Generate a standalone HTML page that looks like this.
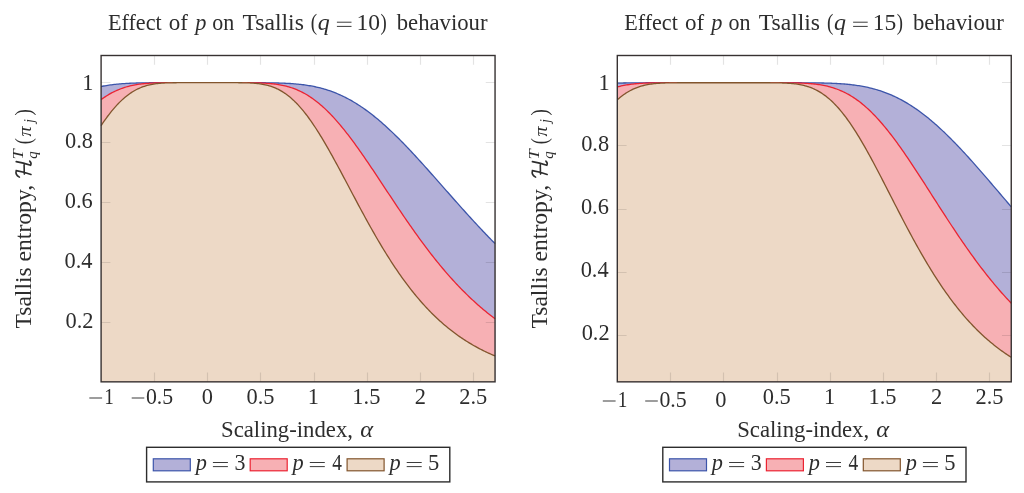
<!DOCTYPE html>
<html><head><meta charset="utf-8"><style>
html,body{margin:0;padding:0;background:#fff;width:1024px;height:493px;overflow:hidden}
svg{display:block;will-change:transform}
.t{font-family:"Liberation Serif",serif;fill:rgb(45,45,45)}
</style></head><body>
<svg width="1024" height="493" viewBox="0 0 1024 493">
<path d="M101.10,86.52 L102.41,86.26 L103.73,86.01 L105.04,85.78 L106.35,85.56 L107.67,85.34 L108.98,85.14 L110.29,84.96 L111.61,84.78 L112.92,84.61 L114.23,84.46 L115.54,84.31 L116.86,84.17 L118.17,84.05 L119.48,83.93 L120.80,83.81 L122.11,83.71 L123.42,83.62 L124.74,83.53 L126.05,83.45 L127.36,83.37 L128.68,83.30 L129.99,83.24 L131.30,83.18 L132.62,83.13 L133.93,83.08 L135.24,83.03 L136.56,82.99 L137.87,82.96 L139.18,82.93 L140.50,82.90 L141.81,82.87 L143.12,82.85 L144.43,82.83 L145.75,82.81 L147.06,82.79 L148.37,82.78 L149.69,82.77 L151.00,82.76 L152.31,82.75 L153.63,82.74 L154.94,82.73 L156.25,82.73 L157.57,82.72 L158.88,82.72 L160.19,82.71 L161.51,82.71 L162.82,82.71 L164.13,82.71 L165.45,82.71 L166.76,82.70 L168.07,82.70 L169.38,82.70 L170.70,82.70 L172.01,82.70 L173.32,82.70 L174.64,82.70 L175.95,82.70 L177.26,82.70 L178.58,82.70 L179.89,82.70 L181.20,82.70 L182.52,82.70 L183.83,82.70 L185.14,82.70 L186.46,82.70 L187.77,82.70 L189.08,82.70 L190.40,82.70 L191.71,82.70 L193.02,82.70 L194.33,82.70 L195.65,82.70 L196.96,82.70 L198.27,82.70 L199.59,82.70 L200.90,82.70 L202.21,82.70 L203.53,82.70 L204.84,82.70 L206.15,82.70 L207.47,82.70 L208.78,82.70 L210.09,82.70 L211.41,82.70 L212.72,82.70 L214.03,82.70 L215.35,82.70 L216.66,82.70 L217.97,82.70 L219.29,82.70 L220.60,82.70 L221.91,82.70 L223.22,82.70 L224.54,82.70 L225.85,82.70 L227.16,82.70 L228.48,82.70 L229.79,82.70 L231.10,82.70 L232.42,82.70 L233.73,82.70 L235.04,82.70 L236.36,82.70 L237.67,82.70 L238.98,82.70 L240.30,82.70 L241.61,82.70 L242.92,82.70 L244.24,82.70 L245.55,82.70 L246.86,82.70 L248.17,82.70 L249.49,82.71 L250.80,82.71 L252.11,82.71 L253.43,82.71 L254.74,82.71 L256.05,82.72 L257.37,82.72 L258.68,82.73 L259.99,82.73 L261.31,82.74 L262.62,82.75 L263.93,82.76 L265.25,82.77 L266.56,82.78 L267.87,82.79 L269.19,82.81 L270.50,82.82 L271.81,82.85 L273.12,82.87 L274.44,82.89 L275.75,82.92 L277.06,82.95 L278.38,82.99 L279.69,83.03 L281.00,83.07 L282.32,83.12 L283.63,83.17 L284.94,83.23 L286.26,83.29 L287.57,83.36 L288.88,83.43 L290.20,83.51 L291.51,83.60 L292.82,83.70 L294.14,83.80 L295.45,83.91 L296.76,84.03 L298.08,84.15 L299.39,84.29 L300.70,84.43 L302.01,84.59 L303.33,84.75 L304.64,84.93 L305.95,85.11 L307.27,85.31 L308.58,85.52 L309.89,85.74 L311.21,85.97 L312.52,86.22 L313.83,86.48 L315.15,86.75 L316.46,87.04 L317.77,87.34 L319.09,87.66 L320.40,87.98 L321.71,88.33 L323.03,88.69 L324.34,89.07 L325.65,89.46 L326.96,89.87 L328.28,90.29 L329.59,90.73 L330.90,91.19 L332.22,91.66 L333.53,92.15 L334.84,92.66 L336.16,93.19 L337.47,93.74 L338.78,94.30 L340.10,94.88 L341.41,95.48 L342.72,96.10 L344.04,96.73 L345.35,97.39 L346.66,98.06 L347.98,98.75 L349.29,99.46 L350.60,100.19 L351.91,100.93 L353.23,101.70 L354.54,102.48 L355.85,103.28 L357.17,104.10 L358.48,104.94 L359.79,105.80 L361.11,106.67 L362.42,107.56 L363.73,108.48 L365.05,109.40 L366.36,110.35 L367.67,111.31 L368.99,112.29 L370.30,113.29 L371.61,114.31 L372.93,115.34 L374.24,116.38 L375.55,117.45 L376.87,118.53 L378.18,119.62 L379.49,120.73 L380.80,121.86 L382.12,123.00 L383.43,124.16 L384.74,125.33 L386.06,126.51 L387.37,127.71 L388.68,128.93 L390.00,130.15 L391.31,131.39 L392.62,132.64 L393.94,133.90 L395.25,135.18 L396.56,136.47 L397.88,137.77 L399.19,139.08 L400.50,140.40 L401.82,141.73 L403.13,143.07 L404.44,144.42 L405.75,145.78 L407.07,147.15 L408.38,148.53 L409.69,149.92 L411.01,151.31 L412.32,152.71 L413.63,154.12 L414.95,155.54 L416.26,156.96 L417.57,158.39 L418.89,159.83 L420.20,161.27 L421.51,162.72 L422.83,164.17 L424.14,165.63 L425.45,167.09 L426.77,168.55 L428.08,170.02 L429.39,171.50 L430.70,172.97 L432.02,174.45 L433.33,175.93 L434.64,177.41 L435.96,178.90 L437.27,180.39 L438.58,181.87 L439.90,183.36 L441.21,184.85 L442.52,186.34 L443.84,187.83 L445.15,189.32 L446.46,190.81 L447.78,192.30 L449.09,193.79 L450.40,195.28 L451.72,196.76 L453.03,198.25 L454.34,199.73 L455.65,201.21 L456.97,202.69 L458.28,204.16 L459.59,205.64 L460.91,207.11 L462.22,208.57 L463.53,210.03 L464.85,211.49 L466.16,212.95 L467.47,214.40 L468.79,215.85 L470.10,217.29 L471.41,218.73 L472.73,220.16 L474.04,221.59 L475.35,223.01 L476.67,224.43 L477.98,225.84 L479.29,227.25 L480.61,228.65 L481.92,230.05 L483.23,231.44 L484.54,232.82 L485.86,234.20 L487.17,235.57 L488.48,236.93 L489.80,238.29 L491.11,239.64 L492.42,240.98 L493.74,242.32 L495.05,243.65 L495.05,381.85 L101.10,381.85 Z" fill="rgb(179,176,216)"/>
<path d="M101.10,86.52 L102.41,86.26 L103.73,86.01 L105.04,85.78 L106.35,85.56 L107.67,85.34 L108.98,85.14 L110.29,84.96 L111.61,84.78 L112.92,84.61 L114.23,84.46 L115.54,84.31 L116.86,84.17 L118.17,84.05 L119.48,83.93 L120.80,83.81 L122.11,83.71 L123.42,83.62 L124.74,83.53 L126.05,83.45 L127.36,83.37 L128.68,83.30 L129.99,83.24 L131.30,83.18 L132.62,83.13 L133.93,83.08 L135.24,83.03 L136.56,82.99 L137.87,82.96 L139.18,82.93 L140.50,82.90 L141.81,82.87 L143.12,82.85 L144.43,82.83 L145.75,82.81 L147.06,82.79 L148.37,82.78 L149.69,82.77 L151.00,82.76 L152.31,82.75 L153.63,82.74 L154.94,82.73 L156.25,82.73 L157.57,82.72 L158.88,82.72 L160.19,82.71 L161.51,82.71 L162.82,82.71 L164.13,82.71 L165.45,82.71 L166.76,82.70 L168.07,82.70 L169.38,82.70 L170.70,82.70 L172.01,82.70 L173.32,82.70 L174.64,82.70 L175.95,82.70 L177.26,82.70 L178.58,82.70 L179.89,82.70 L181.20,82.70 L182.52,82.70 L183.83,82.70 L185.14,82.70 L186.46,82.70 L187.77,82.70 L189.08,82.70 L190.40,82.70 L191.71,82.70 L193.02,82.70 L194.33,82.70 L195.65,82.70 L196.96,82.70 L198.27,82.70 L199.59,82.70 L200.90,82.70 L202.21,82.70 L203.53,82.70 L204.84,82.70 L206.15,82.70 L207.47,82.70 L208.78,82.70 L210.09,82.70 L211.41,82.70 L212.72,82.70 L214.03,82.70 L215.35,82.70 L216.66,82.70 L217.97,82.70 L219.29,82.70 L220.60,82.70 L221.91,82.70 L223.22,82.70 L224.54,82.70 L225.85,82.70 L227.16,82.70 L228.48,82.70 L229.79,82.70 L231.10,82.70 L232.42,82.70 L233.73,82.70 L235.04,82.70 L236.36,82.70 L237.67,82.70 L238.98,82.70 L240.30,82.70 L241.61,82.70 L242.92,82.70 L244.24,82.70 L245.55,82.70 L246.86,82.70 L248.17,82.70 L249.49,82.71 L250.80,82.71 L252.11,82.71 L253.43,82.71 L254.74,82.71 L256.05,82.72 L257.37,82.72 L258.68,82.73 L259.99,82.73 L261.31,82.74 L262.62,82.75 L263.93,82.76 L265.25,82.77 L266.56,82.78 L267.87,82.79 L269.19,82.81 L270.50,82.82 L271.81,82.85 L273.12,82.87 L274.44,82.89 L275.75,82.92 L277.06,82.95 L278.38,82.99 L279.69,83.03 L281.00,83.07 L282.32,83.12 L283.63,83.17 L284.94,83.23 L286.26,83.29 L287.57,83.36 L288.88,83.43 L290.20,83.51 L291.51,83.60 L292.82,83.70 L294.14,83.80 L295.45,83.91 L296.76,84.03 L298.08,84.15 L299.39,84.29 L300.70,84.43 L302.01,84.59 L303.33,84.75 L304.64,84.93 L305.95,85.11 L307.27,85.31 L308.58,85.52 L309.89,85.74 L311.21,85.97 L312.52,86.22 L313.83,86.48 L315.15,86.75 L316.46,87.04 L317.77,87.34 L319.09,87.66 L320.40,87.98 L321.71,88.33 L323.03,88.69 L324.34,89.07 L325.65,89.46 L326.96,89.87 L328.28,90.29 L329.59,90.73 L330.90,91.19 L332.22,91.66 L333.53,92.15 L334.84,92.66 L336.16,93.19 L337.47,93.74 L338.78,94.30 L340.10,94.88 L341.41,95.48 L342.72,96.10 L344.04,96.73 L345.35,97.39 L346.66,98.06 L347.98,98.75 L349.29,99.46 L350.60,100.19 L351.91,100.93 L353.23,101.70 L354.54,102.48 L355.85,103.28 L357.17,104.10 L358.48,104.94 L359.79,105.80 L361.11,106.67 L362.42,107.56 L363.73,108.48 L365.05,109.40 L366.36,110.35 L367.67,111.31 L368.99,112.29 L370.30,113.29 L371.61,114.31 L372.93,115.34 L374.24,116.38 L375.55,117.45 L376.87,118.53 L378.18,119.62 L379.49,120.73 L380.80,121.86 L382.12,123.00 L383.43,124.16 L384.74,125.33 L386.06,126.51 L387.37,127.71 L388.68,128.93 L390.00,130.15 L391.31,131.39 L392.62,132.64 L393.94,133.90 L395.25,135.18 L396.56,136.47 L397.88,137.77 L399.19,139.08 L400.50,140.40 L401.82,141.73 L403.13,143.07 L404.44,144.42 L405.75,145.78 L407.07,147.15 L408.38,148.53 L409.69,149.92 L411.01,151.31 L412.32,152.71 L413.63,154.12 L414.95,155.54 L416.26,156.96 L417.57,158.39 L418.89,159.83 L420.20,161.27 L421.51,162.72 L422.83,164.17 L424.14,165.63 L425.45,167.09 L426.77,168.55 L428.08,170.02 L429.39,171.50 L430.70,172.97 L432.02,174.45 L433.33,175.93 L434.64,177.41 L435.96,178.90 L437.27,180.39 L438.58,181.87 L439.90,183.36 L441.21,184.85 L442.52,186.34 L443.84,187.83 L445.15,189.32 L446.46,190.81 L447.78,192.30 L449.09,193.79 L450.40,195.28 L451.72,196.76 L453.03,198.25 L454.34,199.73 L455.65,201.21 L456.97,202.69 L458.28,204.16 L459.59,205.64 L460.91,207.11 L462.22,208.57 L463.53,210.03 L464.85,211.49 L466.16,212.95 L467.47,214.40 L468.79,215.85 L470.10,217.29 L471.41,218.73 L472.73,220.16 L474.04,221.59 L475.35,223.01 L476.67,224.43 L477.98,225.84 L479.29,227.25 L480.61,228.65 L481.92,230.05 L483.23,231.44 L484.54,232.82 L485.86,234.20 L487.17,235.57 L488.48,236.93 L489.80,238.29 L491.11,239.64 L492.42,240.98 L493.74,242.32 L495.05,243.65" fill="none" stroke="rgb(60,85,170)" stroke-width="1.3" stroke-linejoin="round"/>
<path d="M101.10,99.59 L102.41,98.65 L103.73,97.73 L105.04,96.85 L106.35,96.01 L107.67,95.19 L108.98,94.41 L110.29,93.66 L111.61,92.94 L112.92,92.25 L114.23,91.59 L115.54,90.97 L116.86,90.37 L118.17,89.81 L119.48,89.27 L120.80,88.76 L122.11,88.28 L123.42,87.83 L124.74,87.40 L126.05,87.00 L127.36,86.62 L128.68,86.27 L129.99,85.94 L131.30,85.63 L132.62,85.35 L133.93,85.09 L135.24,84.84 L136.56,84.62 L137.87,84.41 L139.18,84.22 L140.50,84.05 L141.81,83.89 L143.12,83.75 L144.43,83.62 L145.75,83.50 L147.06,83.40 L148.37,83.30 L149.69,83.22 L151.00,83.14 L152.31,83.08 L153.63,83.02 L154.94,82.97 L156.25,82.93 L157.57,82.89 L158.88,82.86 L160.19,82.83 L161.51,82.80 L162.82,82.78 L164.13,82.77 L165.45,82.75 L166.76,82.74 L168.07,82.73 L169.38,82.73 L170.70,82.72 L172.01,82.71 L173.32,82.71 L174.64,82.71 L175.95,82.71 L177.26,82.70 L178.58,82.70 L179.89,82.70 L181.20,82.70 L182.52,82.70 L183.83,82.70 L185.14,82.70 L186.46,82.70 L187.77,82.70 L189.08,82.70 L190.40,82.70 L191.71,82.70 L193.02,82.70 L194.33,82.70 L195.65,82.70 L196.96,82.70 L198.27,82.70 L199.59,82.70 L200.90,82.70 L202.21,82.70 L203.53,82.70 L204.84,82.70 L206.15,82.70 L207.47,82.70 L208.78,82.70 L210.09,82.70 L211.41,82.70 L212.72,82.70 L214.03,82.70 L215.35,82.70 L216.66,82.70 L217.97,82.70 L219.29,82.70 L220.60,82.70 L221.91,82.70 L223.22,82.70 L224.54,82.70 L225.85,82.70 L227.16,82.70 L228.48,82.70 L229.79,82.70 L231.10,82.70 L232.42,82.70 L233.73,82.70 L235.04,82.70 L236.36,82.70 L237.67,82.70 L238.98,82.71 L240.30,82.71 L241.61,82.71 L242.92,82.71 L244.24,82.72 L245.55,82.72 L246.86,82.73 L248.17,82.74 L249.49,82.75 L250.80,82.77 L252.11,82.78 L253.43,82.80 L254.74,82.82 L256.05,82.85 L257.37,82.88 L258.68,82.92 L259.99,82.96 L261.31,83.01 L262.62,83.07 L263.93,83.13 L265.25,83.21 L266.56,83.29 L267.87,83.38 L269.19,83.48 L270.50,83.60 L271.81,83.73 L273.12,83.87 L274.44,84.02 L275.75,84.19 L277.06,84.38 L278.38,84.58 L279.69,84.80 L281.00,85.05 L282.32,85.31 L283.63,85.59 L284.94,85.89 L286.26,86.21 L287.57,86.56 L288.88,86.93 L290.20,87.33 L291.51,87.75 L292.82,88.20 L294.14,88.68 L295.45,89.18 L296.76,89.72 L298.08,90.28 L299.39,90.87 L300.70,91.49 L302.01,92.14 L303.33,92.82 L304.64,93.54 L305.95,94.28 L307.27,95.06 L308.58,95.87 L309.89,96.71 L311.21,97.59 L312.52,98.50 L313.83,99.44 L315.15,100.41 L316.46,101.42 L317.77,102.46 L319.09,103.53 L320.40,104.64 L321.71,105.77 L323.03,106.94 L324.34,108.14 L325.65,109.38 L326.96,110.64 L328.28,111.94 L329.59,113.26 L330.90,114.62 L332.22,116.00 L333.53,117.42 L334.84,118.86 L336.16,120.33 L337.47,121.83 L338.78,123.35 L340.10,124.91 L341.41,126.48 L342.72,128.08 L344.04,129.71 L345.35,131.36 L346.66,133.03 L347.98,134.72 L349.29,136.43 L350.60,138.17 L351.91,139.92 L353.23,141.69 L354.54,143.48 L355.85,145.29 L357.17,147.11 L358.48,148.95 L359.79,150.81 L361.11,152.68 L362.42,154.56 L363.73,156.45 L365.05,158.35 L366.36,160.27 L367.67,162.20 L368.99,164.13 L370.30,166.07 L371.61,168.03 L372.93,169.98 L374.24,171.95 L375.55,173.92 L376.87,175.89 L378.18,177.87 L379.49,179.85 L380.80,181.83 L382.12,183.82 L383.43,185.81 L384.74,187.79 L386.06,189.78 L387.37,191.77 L388.68,193.75 L390.00,195.73 L391.31,197.71 L392.62,199.69 L393.94,201.66 L395.25,203.63 L396.56,205.60 L397.88,207.56 L399.19,209.51 L400.50,211.45 L401.82,213.39 L403.13,215.33 L404.44,217.25 L405.75,219.17 L407.07,221.08 L408.38,222.97 L409.69,224.86 L411.01,226.74 L412.32,228.61 L413.63,230.47 L414.95,232.32 L416.26,234.16 L417.57,235.98 L418.89,237.80 L420.20,239.60 L421.51,241.39 L422.83,243.17 L424.14,244.93 L425.45,246.69 L426.77,248.43 L428.08,250.15 L429.39,251.86 L430.70,253.56 L432.02,255.25 L433.33,256.92 L434.64,258.57 L435.96,260.22 L437.27,261.84 L438.58,263.46 L439.90,265.06 L441.21,266.64 L442.52,268.21 L443.84,269.76 L445.15,271.30 L446.46,272.83 L447.78,274.34 L449.09,275.83 L450.40,277.31 L451.72,278.78 L453.03,280.22 L454.34,281.66 L455.65,283.08 L456.97,284.48 L458.28,285.87 L459.59,287.24 L460.91,288.60 L462.22,289.94 L463.53,291.27 L464.85,292.58 L466.16,293.88 L467.47,295.16 L468.79,296.43 L470.10,297.68 L471.41,298.92 L472.73,300.14 L474.04,301.35 L475.35,302.55 L476.67,303.73 L477.98,304.89 L479.29,306.04 L480.61,307.18 L481.92,308.30 L483.23,309.41 L484.54,310.50 L485.86,311.58 L487.17,312.65 L488.48,313.70 L489.80,314.74 L491.11,315.77 L492.42,316.78 L493.74,317.78 L495.05,318.76 L495.05,381.85 L101.10,381.85 Z" fill="rgb(247,176,180)"/>
<path d="M101.10,99.59 L102.41,98.65 L103.73,97.73 L105.04,96.85 L106.35,96.01 L107.67,95.19 L108.98,94.41 L110.29,93.66 L111.61,92.94 L112.92,92.25 L114.23,91.59 L115.54,90.97 L116.86,90.37 L118.17,89.81 L119.48,89.27 L120.80,88.76 L122.11,88.28 L123.42,87.83 L124.74,87.40 L126.05,87.00 L127.36,86.62 L128.68,86.27 L129.99,85.94 L131.30,85.63 L132.62,85.35 L133.93,85.09 L135.24,84.84 L136.56,84.62 L137.87,84.41 L139.18,84.22 L140.50,84.05 L141.81,83.89 L143.12,83.75 L144.43,83.62 L145.75,83.50 L147.06,83.40 L148.37,83.30 L149.69,83.22 L151.00,83.14 L152.31,83.08 L153.63,83.02 L154.94,82.97 L156.25,82.93 L157.57,82.89 L158.88,82.86 L160.19,82.83 L161.51,82.80 L162.82,82.78 L164.13,82.77 L165.45,82.75 L166.76,82.74 L168.07,82.73 L169.38,82.73 L170.70,82.72 L172.01,82.71 L173.32,82.71 L174.64,82.71 L175.95,82.71 L177.26,82.70 L178.58,82.70 L179.89,82.70 L181.20,82.70 L182.52,82.70 L183.83,82.70 L185.14,82.70 L186.46,82.70 L187.77,82.70 L189.08,82.70 L190.40,82.70 L191.71,82.70 L193.02,82.70 L194.33,82.70 L195.65,82.70 L196.96,82.70 L198.27,82.70 L199.59,82.70 L200.90,82.70 L202.21,82.70 L203.53,82.70 L204.84,82.70 L206.15,82.70 L207.47,82.70 L208.78,82.70 L210.09,82.70 L211.41,82.70 L212.72,82.70 L214.03,82.70 L215.35,82.70 L216.66,82.70 L217.97,82.70 L219.29,82.70 L220.60,82.70 L221.91,82.70 L223.22,82.70 L224.54,82.70 L225.85,82.70 L227.16,82.70 L228.48,82.70 L229.79,82.70 L231.10,82.70 L232.42,82.70 L233.73,82.70 L235.04,82.70 L236.36,82.70 L237.67,82.70 L238.98,82.71 L240.30,82.71 L241.61,82.71 L242.92,82.71 L244.24,82.72 L245.55,82.72 L246.86,82.73 L248.17,82.74 L249.49,82.75 L250.80,82.77 L252.11,82.78 L253.43,82.80 L254.74,82.82 L256.05,82.85 L257.37,82.88 L258.68,82.92 L259.99,82.96 L261.31,83.01 L262.62,83.07 L263.93,83.13 L265.25,83.21 L266.56,83.29 L267.87,83.38 L269.19,83.48 L270.50,83.60 L271.81,83.73 L273.12,83.87 L274.44,84.02 L275.75,84.19 L277.06,84.38 L278.38,84.58 L279.69,84.80 L281.00,85.05 L282.32,85.31 L283.63,85.59 L284.94,85.89 L286.26,86.21 L287.57,86.56 L288.88,86.93 L290.20,87.33 L291.51,87.75 L292.82,88.20 L294.14,88.68 L295.45,89.18 L296.76,89.72 L298.08,90.28 L299.39,90.87 L300.70,91.49 L302.01,92.14 L303.33,92.82 L304.64,93.54 L305.95,94.28 L307.27,95.06 L308.58,95.87 L309.89,96.71 L311.21,97.59 L312.52,98.50 L313.83,99.44 L315.15,100.41 L316.46,101.42 L317.77,102.46 L319.09,103.53 L320.40,104.64 L321.71,105.77 L323.03,106.94 L324.34,108.14 L325.65,109.38 L326.96,110.64 L328.28,111.94 L329.59,113.26 L330.90,114.62 L332.22,116.00 L333.53,117.42 L334.84,118.86 L336.16,120.33 L337.47,121.83 L338.78,123.35 L340.10,124.91 L341.41,126.48 L342.72,128.08 L344.04,129.71 L345.35,131.36 L346.66,133.03 L347.98,134.72 L349.29,136.43 L350.60,138.17 L351.91,139.92 L353.23,141.69 L354.54,143.48 L355.85,145.29 L357.17,147.11 L358.48,148.95 L359.79,150.81 L361.11,152.68 L362.42,154.56 L363.73,156.45 L365.05,158.35 L366.36,160.27 L367.67,162.20 L368.99,164.13 L370.30,166.07 L371.61,168.03 L372.93,169.98 L374.24,171.95 L375.55,173.92 L376.87,175.89 L378.18,177.87 L379.49,179.85 L380.80,181.83 L382.12,183.82 L383.43,185.81 L384.74,187.79 L386.06,189.78 L387.37,191.77 L388.68,193.75 L390.00,195.73 L391.31,197.71 L392.62,199.69 L393.94,201.66 L395.25,203.63 L396.56,205.60 L397.88,207.56 L399.19,209.51 L400.50,211.45 L401.82,213.39 L403.13,215.33 L404.44,217.25 L405.75,219.17 L407.07,221.08 L408.38,222.97 L409.69,224.86 L411.01,226.74 L412.32,228.61 L413.63,230.47 L414.95,232.32 L416.26,234.16 L417.57,235.98 L418.89,237.80 L420.20,239.60 L421.51,241.39 L422.83,243.17 L424.14,244.93 L425.45,246.69 L426.77,248.43 L428.08,250.15 L429.39,251.86 L430.70,253.56 L432.02,255.25 L433.33,256.92 L434.64,258.57 L435.96,260.22 L437.27,261.84 L438.58,263.46 L439.90,265.06 L441.21,266.64 L442.52,268.21 L443.84,269.76 L445.15,271.30 L446.46,272.83 L447.78,274.34 L449.09,275.83 L450.40,277.31 L451.72,278.78 L453.03,280.22 L454.34,281.66 L455.65,283.08 L456.97,284.48 L458.28,285.87 L459.59,287.24 L460.91,288.60 L462.22,289.94 L463.53,291.27 L464.85,292.58 L466.16,293.88 L467.47,295.16 L468.79,296.43 L470.10,297.68 L471.41,298.92 L472.73,300.14 L474.04,301.35 L475.35,302.55 L476.67,303.73 L477.98,304.89 L479.29,306.04 L480.61,307.18 L481.92,308.30 L483.23,309.41 L484.54,310.50 L485.86,311.58 L487.17,312.65 L488.48,313.70 L489.80,314.74 L491.11,315.77 L492.42,316.78 L493.74,317.78 L495.05,318.76" fill="none" stroke="rgb(235,35,50)" stroke-width="1.3" stroke-linejoin="round"/>
<path d="M101.10,125.58 L102.41,123.64 L103.73,121.73 L105.04,119.86 L106.35,118.04 L107.67,116.26 L108.98,114.53 L110.29,112.84 L111.61,111.20 L112.92,109.61 L114.23,108.06 L115.54,106.57 L116.86,105.12 L118.17,103.73 L119.48,102.39 L120.80,101.10 L122.11,99.86 L123.42,98.67 L124.74,97.53 L126.05,96.44 L127.36,95.41 L128.68,94.42 L129.99,93.49 L131.30,92.60 L132.62,91.77 L133.93,90.98 L135.24,90.24 L136.56,89.54 L137.87,88.89 L139.18,88.29 L140.50,87.73 L141.81,87.20 L143.12,86.72 L144.43,86.28 L145.75,85.87 L147.06,85.49 L148.37,85.16 L149.69,84.85 L151.00,84.57 L152.31,84.32 L153.63,84.09 L154.94,83.89 L156.25,83.72 L157.57,83.56 L158.88,83.42 L160.19,83.30 L161.51,83.20 L162.82,83.11 L164.13,83.04 L165.45,82.97 L166.76,82.92 L168.07,82.87 L169.38,82.84 L170.70,82.81 L172.01,82.78 L173.32,82.76 L174.64,82.75 L175.95,82.73 L177.26,82.72 L178.58,82.72 L179.89,82.71 L181.20,82.71 L182.52,82.71 L183.83,82.70 L185.14,82.70 L186.46,82.70 L187.77,82.70 L189.08,82.70 L190.40,82.70 L191.71,82.70 L193.02,82.70 L194.33,82.70 L195.65,82.70 L196.96,82.70 L198.27,82.70 L199.59,82.70 L200.90,82.70 L202.21,82.70 L203.53,82.70 L204.84,82.70 L206.15,82.70 L207.47,82.70 L208.78,82.70 L210.09,82.70 L211.41,82.70 L212.72,82.70 L214.03,82.70 L215.35,82.70 L216.66,82.70 L217.97,82.70 L219.29,82.70 L220.60,82.70 L221.91,82.70 L223.22,82.70 L224.54,82.70 L225.85,82.70 L227.16,82.70 L228.48,82.70 L229.79,82.70 L231.10,82.70 L232.42,82.71 L233.73,82.71 L235.04,82.71 L236.36,82.72 L237.67,82.72 L238.98,82.73 L240.30,82.74 L241.61,82.76 L242.92,82.78 L244.24,82.80 L245.55,82.83 L246.86,82.87 L248.17,82.91 L249.49,82.96 L250.80,83.03 L252.11,83.10 L253.43,83.19 L254.74,83.29 L256.05,83.40 L257.37,83.54 L258.68,83.69 L259.99,83.86 L261.31,84.06 L262.62,84.28 L263.93,84.53 L265.25,84.80 L266.56,85.10 L267.87,85.44 L269.19,85.81 L270.50,86.21 L271.81,86.65 L273.12,87.12 L274.44,87.64 L275.75,88.19 L277.06,88.79 L278.38,89.44 L279.69,90.12 L281.00,90.86 L282.32,91.64 L283.63,92.46 L284.94,93.34 L286.26,94.27 L287.57,95.24 L288.88,96.27 L290.20,97.35 L291.51,98.48 L292.82,99.66 L294.14,100.89 L295.45,102.17 L296.76,103.51 L298.08,104.89 L299.39,106.33 L300.70,107.82 L302.01,109.35 L303.33,110.94 L304.64,112.57 L305.95,114.25 L307.27,115.98 L308.58,117.75 L309.89,119.56 L311.21,121.42 L312.52,123.32 L313.83,125.27 L315.15,127.25 L316.46,129.27 L317.77,131.32 L319.09,133.41 L320.40,135.54 L321.71,137.70 L323.03,139.88 L324.34,142.10 L325.65,144.35 L326.96,146.62 L328.28,148.92 L329.59,151.24 L330.90,153.58 L332.22,155.94 L333.53,158.32 L334.84,160.71 L336.16,163.12 L337.47,165.55 L338.78,167.99 L340.10,170.43 L341.41,172.89 L342.72,175.36 L344.04,177.83 L345.35,180.31 L346.66,182.79 L347.98,185.27 L349.29,187.75 L350.60,190.24 L351.91,192.72 L353.23,195.20 L354.54,197.67 L355.85,200.14 L357.17,202.61 L358.48,205.07 L359.79,207.52 L361.11,209.96 L362.42,212.39 L363.73,214.81 L365.05,217.21 L366.36,219.61 L367.67,221.99 L368.99,224.35 L370.30,226.71 L371.61,229.04 L372.93,231.36 L374.24,233.66 L375.55,235.95 L376.87,238.21 L378.18,240.46 L379.49,242.69 L380.80,244.90 L382.12,247.09 L383.43,249.26 L384.74,251.40 L386.06,253.53 L387.37,255.63 L388.68,257.71 L390.00,259.77 L391.31,261.81 L392.62,263.83 L393.94,265.82 L395.25,267.79 L396.56,269.73 L397.88,271.66 L399.19,273.55 L400.50,275.43 L401.82,277.28 L403.13,279.11 L404.44,280.91 L405.75,282.69 L407.07,284.45 L408.38,286.18 L409.69,287.89 L411.01,289.58 L412.32,291.24 L413.63,292.88 L414.95,294.50 L416.26,296.09 L417.57,297.66 L418.89,299.20 L420.20,300.73 L421.51,302.23 L422.83,303.70 L424.14,305.16 L425.45,306.59 L426.77,308.00 L428.08,309.39 L429.39,310.75 L430.70,312.10 L432.02,313.42 L433.33,314.72 L434.64,316.00 L435.96,317.26 L437.27,318.50 L438.58,319.72 L439.90,320.91 L441.21,322.09 L442.52,323.25 L443.84,324.39 L445.15,325.51 L446.46,326.61 L447.78,327.69 L449.09,328.75 L450.40,329.79 L451.72,330.82 L453.03,331.83 L454.34,332.82 L455.65,333.79 L456.97,334.74 L458.28,335.68 L459.59,336.60 L460.91,337.51 L462.22,338.40 L463.53,339.27 L464.85,340.12 L466.16,340.97 L467.47,341.79 L468.79,342.60 L470.10,343.40 L471.41,344.18 L472.73,344.94 L474.04,345.70 L475.35,346.43 L476.67,347.16 L477.98,347.87 L479.29,348.56 L480.61,349.25 L481.92,349.92 L483.23,350.58 L484.54,351.22 L485.86,351.86 L487.17,352.48 L488.48,353.09 L489.80,353.69 L491.11,354.27 L492.42,354.85 L493.74,355.41 L495.05,355.96 L495.05,381.85 L101.10,381.85 Z" fill="rgb(237,217,198)"/>
<path d="M101.10,125.58 L102.41,123.64 L103.73,121.73 L105.04,119.86 L106.35,118.04 L107.67,116.26 L108.98,114.53 L110.29,112.84 L111.61,111.20 L112.92,109.61 L114.23,108.06 L115.54,106.57 L116.86,105.12 L118.17,103.73 L119.48,102.39 L120.80,101.10 L122.11,99.86 L123.42,98.67 L124.74,97.53 L126.05,96.44 L127.36,95.41 L128.68,94.42 L129.99,93.49 L131.30,92.60 L132.62,91.77 L133.93,90.98 L135.24,90.24 L136.56,89.54 L137.87,88.89 L139.18,88.29 L140.50,87.73 L141.81,87.20 L143.12,86.72 L144.43,86.28 L145.75,85.87 L147.06,85.49 L148.37,85.16 L149.69,84.85 L151.00,84.57 L152.31,84.32 L153.63,84.09 L154.94,83.89 L156.25,83.72 L157.57,83.56 L158.88,83.42 L160.19,83.30 L161.51,83.20 L162.82,83.11 L164.13,83.04 L165.45,82.97 L166.76,82.92 L168.07,82.87 L169.38,82.84 L170.70,82.81 L172.01,82.78 L173.32,82.76 L174.64,82.75 L175.95,82.73 L177.26,82.72 L178.58,82.72 L179.89,82.71 L181.20,82.71 L182.52,82.71 L183.83,82.70 L185.14,82.70 L186.46,82.70 L187.77,82.70 L189.08,82.70 L190.40,82.70 L191.71,82.70 L193.02,82.70 L194.33,82.70 L195.65,82.70 L196.96,82.70 L198.27,82.70 L199.59,82.70 L200.90,82.70 L202.21,82.70 L203.53,82.70 L204.84,82.70 L206.15,82.70 L207.47,82.70 L208.78,82.70 L210.09,82.70 L211.41,82.70 L212.72,82.70 L214.03,82.70 L215.35,82.70 L216.66,82.70 L217.97,82.70 L219.29,82.70 L220.60,82.70 L221.91,82.70 L223.22,82.70 L224.54,82.70 L225.85,82.70 L227.16,82.70 L228.48,82.70 L229.79,82.70 L231.10,82.70 L232.42,82.71 L233.73,82.71 L235.04,82.71 L236.36,82.72 L237.67,82.72 L238.98,82.73 L240.30,82.74 L241.61,82.76 L242.92,82.78 L244.24,82.80 L245.55,82.83 L246.86,82.87 L248.17,82.91 L249.49,82.96 L250.80,83.03 L252.11,83.10 L253.43,83.19 L254.74,83.29 L256.05,83.40 L257.37,83.54 L258.68,83.69 L259.99,83.86 L261.31,84.06 L262.62,84.28 L263.93,84.53 L265.25,84.80 L266.56,85.10 L267.87,85.44 L269.19,85.81 L270.50,86.21 L271.81,86.65 L273.12,87.12 L274.44,87.64 L275.75,88.19 L277.06,88.79 L278.38,89.44 L279.69,90.12 L281.00,90.86 L282.32,91.64 L283.63,92.46 L284.94,93.34 L286.26,94.27 L287.57,95.24 L288.88,96.27 L290.20,97.35 L291.51,98.48 L292.82,99.66 L294.14,100.89 L295.45,102.17 L296.76,103.51 L298.08,104.89 L299.39,106.33 L300.70,107.82 L302.01,109.35 L303.33,110.94 L304.64,112.57 L305.95,114.25 L307.27,115.98 L308.58,117.75 L309.89,119.56 L311.21,121.42 L312.52,123.32 L313.83,125.27 L315.15,127.25 L316.46,129.27 L317.77,131.32 L319.09,133.41 L320.40,135.54 L321.71,137.70 L323.03,139.88 L324.34,142.10 L325.65,144.35 L326.96,146.62 L328.28,148.92 L329.59,151.24 L330.90,153.58 L332.22,155.94 L333.53,158.32 L334.84,160.71 L336.16,163.12 L337.47,165.55 L338.78,167.99 L340.10,170.43 L341.41,172.89 L342.72,175.36 L344.04,177.83 L345.35,180.31 L346.66,182.79 L347.98,185.27 L349.29,187.75 L350.60,190.24 L351.91,192.72 L353.23,195.20 L354.54,197.67 L355.85,200.14 L357.17,202.61 L358.48,205.07 L359.79,207.52 L361.11,209.96 L362.42,212.39 L363.73,214.81 L365.05,217.21 L366.36,219.61 L367.67,221.99 L368.99,224.35 L370.30,226.71 L371.61,229.04 L372.93,231.36 L374.24,233.66 L375.55,235.95 L376.87,238.21 L378.18,240.46 L379.49,242.69 L380.80,244.90 L382.12,247.09 L383.43,249.26 L384.74,251.40 L386.06,253.53 L387.37,255.63 L388.68,257.71 L390.00,259.77 L391.31,261.81 L392.62,263.83 L393.94,265.82 L395.25,267.79 L396.56,269.73 L397.88,271.66 L399.19,273.55 L400.50,275.43 L401.82,277.28 L403.13,279.11 L404.44,280.91 L405.75,282.69 L407.07,284.45 L408.38,286.18 L409.69,287.89 L411.01,289.58 L412.32,291.24 L413.63,292.88 L414.95,294.50 L416.26,296.09 L417.57,297.66 L418.89,299.20 L420.20,300.73 L421.51,302.23 L422.83,303.70 L424.14,305.16 L425.45,306.59 L426.77,308.00 L428.08,309.39 L429.39,310.75 L430.70,312.10 L432.02,313.42 L433.33,314.72 L434.64,316.00 L435.96,317.26 L437.27,318.50 L438.58,319.72 L439.90,320.91 L441.21,322.09 L442.52,323.25 L443.84,324.39 L445.15,325.51 L446.46,326.61 L447.78,327.69 L449.09,328.75 L450.40,329.79 L451.72,330.82 L453.03,331.83 L454.34,332.82 L455.65,333.79 L456.97,334.74 L458.28,335.68 L459.59,336.60 L460.91,337.51 L462.22,338.40 L463.53,339.27 L464.85,340.12 L466.16,340.97 L467.47,341.79 L468.79,342.60 L470.10,343.40 L471.41,344.18 L472.73,344.94 L474.04,345.70 L475.35,346.43 L476.67,347.16 L477.98,347.87 L479.29,348.56 L480.61,349.25 L481.92,349.92 L483.23,350.58 L484.54,351.22 L485.86,351.86 L487.17,352.48 L488.48,353.09 L489.80,353.69 L491.11,354.27 L492.42,354.85 L493.74,355.41 L495.05,355.96" fill="none" stroke="rgb(130,85,45)" stroke-width="1.3" stroke-linejoin="round"/>
<path d="M154.5,381.85 v-9.3 M154.5,55.5 v9.3 M207.5,381.85 v-9.3 M207.5,55.5 v9.3 M260.5,381.85 v-9.3 M260.5,55.5 v9.3 M314.5,381.85 v-9.3 M314.5,55.5 v9.3 M367.5,381.85 v-9.3 M367.5,55.5 v9.3 M420.5,381.85 v-9.3 M420.5,55.5 v9.3 M473.5,381.85 v-9.3 M473.5,55.5 v9.3 M101.1,322.5 h9.3 M495.05,322.5 h-9.3 M101.1,262.5 h9.3 M495.05,262.5 h-9.3 M101.1,202.5 h9.3 M495.05,202.5 h-9.3 M101.1,142.5 h9.3 M495.05,142.5 h-9.3 M101.1,82.5 h9.3 M495.05,82.5 h-9.3" stroke="rgb(0,0,0)" stroke-opacity="0.11" stroke-width="1.2" fill="none"/>
<rect x="101.1" y="55.5" width="393.95000000000005" height="326.35" fill="none" stroke="rgb(55,50,50)" stroke-width="1.4"/>
<rect x="146.6" y="447.3" width="303.2" height="34.6" fill="#fff" stroke="rgb(45,45,45)" stroke-width="1.4"/>
<rect x="153.3" y="458.8" width="37" height="12" fill="rgb(179,176,216)" stroke="rgb(60,85,170)" stroke-width="1.2"/>
<rect x="250.2" y="458.8" width="37" height="12" fill="rgb(247,176,180)" stroke="rgb(235,35,50)" stroke-width="1.2"/>
<rect x="347.1" y="458.8" width="37" height="12" fill="rgb(237,217,198)" stroke="rgb(130,85,45)" stroke-width="1.2"/>
<g transform="translate(31,181) rotate(-90)"><path d="M3.9,-11.6 C5.3,-14.3 8.2,-15.4 10.4,-14.8 C9.6,-10 8,-4 6.5,0 M6.9,-6.7 L16.2,-6.9 M19.4,-14.8 C18.6,-10 17,-4 15.8,-0.4 C17,0.4 18.6,0 19.9,-1.3" fill="none" stroke="rgb(45,45,45)" stroke-width="1.6" stroke-linecap="round"/></g>
<path d="M617.30,83.20 L618.61,83.16 L619.93,83.12 L621.24,83.08 L622.55,83.04 L623.87,83.01 L625.18,82.98 L626.49,82.96 L627.81,82.93 L629.12,82.91 L630.43,82.89 L631.74,82.87 L633.06,82.86 L634.37,82.84 L635.68,82.83 L637.00,82.82 L638.31,82.81 L639.62,82.80 L640.94,82.80 L642.25,82.79 L643.56,82.78 L644.88,82.78 L646.19,82.77 L647.50,82.77 L648.82,82.77 L650.13,82.76 L651.44,82.76 L652.76,82.76 L654.07,82.76 L655.38,82.76 L656.70,82.76 L658.01,82.75 L659.32,82.75 L660.63,82.75 L661.95,82.75 L663.26,82.75 L664.57,82.75 L665.89,82.75 L667.20,82.75 L668.51,82.75 L669.83,82.75 L671.14,82.75 L672.45,82.75 L673.77,82.75 L675.08,82.75 L676.39,82.75 L677.71,82.75 L679.02,82.75 L680.33,82.75 L681.65,82.75 L682.96,82.75 L684.27,82.75 L685.58,82.75 L686.90,82.75 L688.21,82.75 L689.52,82.75 L690.84,82.75 L692.15,82.75 L693.46,82.75 L694.78,82.75 L696.09,82.75 L697.40,82.75 L698.72,82.75 L700.03,82.75 L701.34,82.75 L702.66,82.75 L703.97,82.75 L705.28,82.75 L706.60,82.75 L707.91,82.75 L709.22,82.75 L710.53,82.75 L711.85,82.75 L713.16,82.75 L714.47,82.75 L715.79,82.75 L717.10,82.75 L718.41,82.75 L719.73,82.75 L721.04,82.75 L722.35,82.75 L723.67,82.75 L724.98,82.75 L726.29,82.75 L727.61,82.75 L728.92,82.75 L730.23,82.75 L731.55,82.75 L732.86,82.75 L734.17,82.75 L735.49,82.75 L736.80,82.75 L738.11,82.75 L739.42,82.75 L740.74,82.75 L742.05,82.75 L743.36,82.75 L744.68,82.75 L745.99,82.75 L747.30,82.75 L748.62,82.75 L749.93,82.75 L751.24,82.75 L752.56,82.75 L753.87,82.75 L755.18,82.75 L756.50,82.75 L757.81,82.75 L759.12,82.75 L760.44,82.75 L761.75,82.75 L763.06,82.75 L764.37,82.75 L765.69,82.75 L767.00,82.75 L768.31,82.75 L769.63,82.75 L770.94,82.75 L772.25,82.75 L773.57,82.75 L774.88,82.75 L776.19,82.75 L777.51,82.75 L778.82,82.75 L780.13,82.75 L781.45,82.75 L782.76,82.75 L784.07,82.75 L785.39,82.75 L786.70,82.75 L788.01,82.75 L789.32,82.75 L790.64,82.76 L791.95,82.76 L793.26,82.76 L794.58,82.76 L795.89,82.76 L797.20,82.76 L798.52,82.77 L799.83,82.77 L801.14,82.77 L802.46,82.78 L803.77,82.78 L805.08,82.79 L806.40,82.79 L807.71,82.80 L809.02,82.81 L810.34,82.82 L811.65,82.83 L812.96,82.84 L814.28,82.86 L815.59,82.87 L816.90,82.89 L818.21,82.91 L819.53,82.93 L820.84,82.95 L822.15,82.98 L823.47,83.01 L824.78,83.04 L826.09,83.07 L827.41,83.11 L828.72,83.15 L830.03,83.20 L831.35,83.25 L832.66,83.30 L833.97,83.36 L835.29,83.42 L836.60,83.49 L837.91,83.56 L839.23,83.64 L840.54,83.73 L841.85,83.82 L843.16,83.92 L844.48,84.02 L845.79,84.13 L847.10,84.25 L848.42,84.38 L849.73,84.52 L851.04,84.66 L852.36,84.82 L853.67,84.98 L854.98,85.15 L856.30,85.33 L857.61,85.53 L858.92,85.73 L860.24,85.94 L861.55,86.17 L862.86,86.41 L864.18,86.66 L865.49,86.92 L866.80,87.19 L868.11,87.48 L869.43,87.78 L870.74,88.10 L872.05,88.42 L873.37,88.77 L874.68,89.12 L875.99,89.50 L877.31,89.88 L878.62,90.29 L879.93,90.70 L881.25,91.14 L882.56,91.59 L883.87,92.05 L885.19,92.53 L886.50,93.03 L887.81,93.55 L889.13,94.08 L890.44,94.63 L891.75,95.20 L893.07,95.78 L894.38,96.39 L895.69,97.01 L897.00,97.64 L898.32,98.30 L899.63,98.97 L900.94,99.67 L902.26,100.38 L903.57,101.10 L904.88,101.85 L906.20,102.62 L907.51,103.40 L908.82,104.20 L910.14,105.02 L911.45,105.86 L912.76,106.71 L914.08,107.59 L915.39,108.48 L916.70,109.39 L918.02,110.31 L919.33,111.26 L920.64,112.22 L921.95,113.20 L923.27,114.20 L924.58,115.21 L925.89,116.24 L927.21,117.29 L928.52,118.35 L929.83,119.43 L931.15,120.53 L932.46,121.64 L933.77,122.77 L935.09,123.92 L936.40,125.08 L937.71,126.25 L939.03,127.44 L940.34,128.65 L941.65,129.86 L942.97,131.10 L944.28,132.34 L945.59,133.60 L946.90,134.88 L948.22,136.16 L949.53,137.46 L950.84,138.77 L952.16,140.09 L953.47,141.43 L954.78,142.77 L956.10,144.13 L957.41,145.50 L958.72,146.88 L960.04,148.26 L961.35,149.66 L962.66,151.07 L963.98,152.49 L965.29,153.91 L966.60,155.35 L967.92,156.79 L969.23,158.24 L970.54,159.69 L971.86,161.16 L973.17,162.63 L974.48,164.11 L975.79,165.59 L977.11,167.08 L978.42,168.58 L979.73,170.08 L981.05,171.58 L982.36,173.09 L983.67,174.61 L984.99,176.12 L986.30,177.65 L987.61,179.17 L988.93,180.70 L990.24,182.23 L991.55,183.76 L992.87,185.30 L994.18,186.83 L995.49,188.37 L996.81,189.91 L998.12,191.45 L999.43,192.99 L1000.74,194.54 L1002.06,196.08 L1003.37,197.62 L1004.68,199.16 L1006.00,200.70 L1007.31,202.24 L1008.62,203.78 L1009.94,205.31 L1011.25,206.85 L1011.25,381.85 L617.30,381.85 Z" fill="rgb(179,176,216)"/>
<path d="M617.30,83.20 L618.61,83.16 L619.93,83.12 L621.24,83.08 L622.55,83.04 L623.87,83.01 L625.18,82.98 L626.49,82.96 L627.81,82.93 L629.12,82.91 L630.43,82.89 L631.74,82.87 L633.06,82.86 L634.37,82.84 L635.68,82.83 L637.00,82.82 L638.31,82.81 L639.62,82.80 L640.94,82.80 L642.25,82.79 L643.56,82.78 L644.88,82.78 L646.19,82.77 L647.50,82.77 L648.82,82.77 L650.13,82.76 L651.44,82.76 L652.76,82.76 L654.07,82.76 L655.38,82.76 L656.70,82.76 L658.01,82.75 L659.32,82.75 L660.63,82.75 L661.95,82.75 L663.26,82.75 L664.57,82.75 L665.89,82.75 L667.20,82.75 L668.51,82.75 L669.83,82.75 L671.14,82.75 L672.45,82.75 L673.77,82.75 L675.08,82.75 L676.39,82.75 L677.71,82.75 L679.02,82.75 L680.33,82.75 L681.65,82.75 L682.96,82.75 L684.27,82.75 L685.58,82.75 L686.90,82.75 L688.21,82.75 L689.52,82.75 L690.84,82.75 L692.15,82.75 L693.46,82.75 L694.78,82.75 L696.09,82.75 L697.40,82.75 L698.72,82.75 L700.03,82.75 L701.34,82.75 L702.66,82.75 L703.97,82.75 L705.28,82.75 L706.60,82.75 L707.91,82.75 L709.22,82.75 L710.53,82.75 L711.85,82.75 L713.16,82.75 L714.47,82.75 L715.79,82.75 L717.10,82.75 L718.41,82.75 L719.73,82.75 L721.04,82.75 L722.35,82.75 L723.67,82.75 L724.98,82.75 L726.29,82.75 L727.61,82.75 L728.92,82.75 L730.23,82.75 L731.55,82.75 L732.86,82.75 L734.17,82.75 L735.49,82.75 L736.80,82.75 L738.11,82.75 L739.42,82.75 L740.74,82.75 L742.05,82.75 L743.36,82.75 L744.68,82.75 L745.99,82.75 L747.30,82.75 L748.62,82.75 L749.93,82.75 L751.24,82.75 L752.56,82.75 L753.87,82.75 L755.18,82.75 L756.50,82.75 L757.81,82.75 L759.12,82.75 L760.44,82.75 L761.75,82.75 L763.06,82.75 L764.37,82.75 L765.69,82.75 L767.00,82.75 L768.31,82.75 L769.63,82.75 L770.94,82.75 L772.25,82.75 L773.57,82.75 L774.88,82.75 L776.19,82.75 L777.51,82.75 L778.82,82.75 L780.13,82.75 L781.45,82.75 L782.76,82.75 L784.07,82.75 L785.39,82.75 L786.70,82.75 L788.01,82.75 L789.32,82.75 L790.64,82.76 L791.95,82.76 L793.26,82.76 L794.58,82.76 L795.89,82.76 L797.20,82.76 L798.52,82.77 L799.83,82.77 L801.14,82.77 L802.46,82.78 L803.77,82.78 L805.08,82.79 L806.40,82.79 L807.71,82.80 L809.02,82.81 L810.34,82.82 L811.65,82.83 L812.96,82.84 L814.28,82.86 L815.59,82.87 L816.90,82.89 L818.21,82.91 L819.53,82.93 L820.84,82.95 L822.15,82.98 L823.47,83.01 L824.78,83.04 L826.09,83.07 L827.41,83.11 L828.72,83.15 L830.03,83.20 L831.35,83.25 L832.66,83.30 L833.97,83.36 L835.29,83.42 L836.60,83.49 L837.91,83.56 L839.23,83.64 L840.54,83.73 L841.85,83.82 L843.16,83.92 L844.48,84.02 L845.79,84.13 L847.10,84.25 L848.42,84.38 L849.73,84.52 L851.04,84.66 L852.36,84.82 L853.67,84.98 L854.98,85.15 L856.30,85.33 L857.61,85.53 L858.92,85.73 L860.24,85.94 L861.55,86.17 L862.86,86.41 L864.18,86.66 L865.49,86.92 L866.80,87.19 L868.11,87.48 L869.43,87.78 L870.74,88.10 L872.05,88.42 L873.37,88.77 L874.68,89.12 L875.99,89.50 L877.31,89.88 L878.62,90.29 L879.93,90.70 L881.25,91.14 L882.56,91.59 L883.87,92.05 L885.19,92.53 L886.50,93.03 L887.81,93.55 L889.13,94.08 L890.44,94.63 L891.75,95.20 L893.07,95.78 L894.38,96.39 L895.69,97.01 L897.00,97.64 L898.32,98.30 L899.63,98.97 L900.94,99.67 L902.26,100.38 L903.57,101.10 L904.88,101.85 L906.20,102.62 L907.51,103.40 L908.82,104.20 L910.14,105.02 L911.45,105.86 L912.76,106.71 L914.08,107.59 L915.39,108.48 L916.70,109.39 L918.02,110.31 L919.33,111.26 L920.64,112.22 L921.95,113.20 L923.27,114.20 L924.58,115.21 L925.89,116.24 L927.21,117.29 L928.52,118.35 L929.83,119.43 L931.15,120.53 L932.46,121.64 L933.77,122.77 L935.09,123.92 L936.40,125.08 L937.71,126.25 L939.03,127.44 L940.34,128.65 L941.65,129.86 L942.97,131.10 L944.28,132.34 L945.59,133.60 L946.90,134.88 L948.22,136.16 L949.53,137.46 L950.84,138.77 L952.16,140.09 L953.47,141.43 L954.78,142.77 L956.10,144.13 L957.41,145.50 L958.72,146.88 L960.04,148.26 L961.35,149.66 L962.66,151.07 L963.98,152.49 L965.29,153.91 L966.60,155.35 L967.92,156.79 L969.23,158.24 L970.54,159.69 L971.86,161.16 L973.17,162.63 L974.48,164.11 L975.79,165.59 L977.11,167.08 L978.42,168.58 L979.73,170.08 L981.05,171.58 L982.36,173.09 L983.67,174.61 L984.99,176.12 L986.30,177.65 L987.61,179.17 L988.93,180.70 L990.24,182.23 L991.55,183.76 L992.87,185.30 L994.18,186.83 L995.49,188.37 L996.81,189.91 L998.12,191.45 L999.43,192.99 L1000.74,194.54 L1002.06,196.08 L1003.37,197.62 L1004.68,199.16 L1006.00,200.70 L1007.31,202.24 L1008.62,203.78 L1009.94,205.31 L1011.25,206.85" fill="none" stroke="rgb(60,85,170)" stroke-width="1.3" stroke-linejoin="round"/>
<path d="M617.30,86.97 L618.61,86.62 L619.93,86.29 L621.24,85.99 L622.55,85.70 L623.87,85.43 L625.18,85.18 L626.49,84.95 L627.81,84.74 L629.12,84.54 L630.43,84.36 L631.74,84.19 L633.06,84.04 L634.37,83.90 L635.68,83.77 L637.00,83.66 L638.31,83.55 L639.62,83.46 L640.94,83.37 L642.25,83.29 L643.56,83.22 L644.88,83.16 L646.19,83.10 L647.50,83.06 L648.82,83.01 L650.13,82.97 L651.44,82.94 L652.76,82.91 L654.07,82.89 L655.38,82.86 L656.70,82.85 L658.01,82.83 L659.32,82.82 L660.63,82.80 L661.95,82.79 L663.26,82.79 L664.57,82.78 L665.89,82.77 L667.20,82.77 L668.51,82.76 L669.83,82.76 L671.14,82.76 L672.45,82.76 L673.77,82.75 L675.08,82.75 L676.39,82.75 L677.71,82.75 L679.02,82.75 L680.33,82.75 L681.65,82.75 L682.96,82.75 L684.27,82.75 L685.58,82.75 L686.90,82.75 L688.21,82.75 L689.52,82.75 L690.84,82.75 L692.15,82.75 L693.46,82.75 L694.78,82.75 L696.09,82.75 L697.40,82.75 L698.72,82.75 L700.03,82.75 L701.34,82.75 L702.66,82.75 L703.97,82.75 L705.28,82.75 L706.60,82.75 L707.91,82.75 L709.22,82.75 L710.53,82.75 L711.85,82.75 L713.16,82.75 L714.47,82.75 L715.79,82.75 L717.10,82.75 L718.41,82.75 L719.73,82.75 L721.04,82.75 L722.35,82.75 L723.67,82.75 L724.98,82.75 L726.29,82.75 L727.61,82.75 L728.92,82.75 L730.23,82.75 L731.55,82.75 L732.86,82.75 L734.17,82.75 L735.49,82.75 L736.80,82.75 L738.11,82.75 L739.42,82.75 L740.74,82.75 L742.05,82.75 L743.36,82.75 L744.68,82.75 L745.99,82.75 L747.30,82.75 L748.62,82.75 L749.93,82.75 L751.24,82.75 L752.56,82.75 L753.87,82.75 L755.18,82.75 L756.50,82.75 L757.81,82.75 L759.12,82.75 L760.44,82.75 L761.75,82.75 L763.06,82.75 L764.37,82.75 L765.69,82.75 L767.00,82.75 L768.31,82.75 L769.63,82.75 L770.94,82.75 L772.25,82.75 L773.57,82.75 L774.88,82.76 L776.19,82.76 L777.51,82.76 L778.82,82.76 L780.13,82.77 L781.45,82.77 L782.76,82.78 L784.07,82.78 L785.39,82.79 L786.70,82.80 L788.01,82.81 L789.32,82.83 L790.64,82.84 L791.95,82.86 L793.26,82.88 L794.58,82.91 L795.89,82.94 L797.20,82.97 L798.52,83.01 L799.83,83.05 L801.14,83.10 L802.46,83.15 L803.77,83.21 L805.08,83.28 L806.40,83.36 L807.71,83.44 L809.02,83.53 L810.34,83.64 L811.65,83.75 L812.96,83.88 L814.28,84.02 L815.59,84.17 L816.90,84.33 L818.21,84.51 L819.53,84.71 L820.84,84.92 L822.15,85.15 L823.47,85.39 L824.78,85.66 L826.09,85.94 L827.41,86.24 L828.72,86.57 L830.03,86.91 L831.35,87.28 L832.66,87.67 L833.97,88.09 L835.29,88.53 L836.60,88.99 L837.91,89.49 L839.23,90.00 L840.54,90.55 L841.85,91.12 L843.16,91.73 L844.48,92.36 L845.79,93.02 L847.10,93.71 L848.42,94.43 L849.73,95.18 L851.04,95.97 L852.36,96.78 L853.67,97.63 L854.98,98.50 L856.30,99.41 L857.61,100.36 L858.92,101.33 L860.24,102.34 L861.55,103.38 L862.86,104.45 L864.18,105.55 L865.49,106.69 L866.80,107.86 L868.11,109.06 L869.43,110.29 L870.74,111.55 L872.05,112.84 L873.37,114.17 L874.68,115.52 L875.99,116.91 L877.31,118.33 L878.62,119.77 L879.93,121.24 L881.25,122.74 L882.56,124.27 L883.87,125.83 L885.19,127.41 L886.50,129.02 L887.81,130.65 L889.13,132.31 L890.44,133.99 L891.75,135.70 L893.07,137.42 L894.38,139.17 L895.69,140.95 L897.00,142.74 L898.32,144.55 L899.63,146.38 L900.94,148.23 L902.26,150.09 L903.57,151.98 L904.88,153.87 L906.20,155.79 L907.51,157.71 L908.82,159.66 L910.14,161.61 L911.45,163.57 L912.76,165.55 L914.08,167.54 L915.39,169.54 L916.70,171.54 L918.02,173.56 L919.33,175.58 L920.64,177.61 L921.95,179.64 L923.27,181.68 L924.58,183.72 L925.89,185.77 L927.21,187.82 L928.52,189.87 L929.83,191.92 L931.15,193.98 L932.46,196.03 L933.77,198.09 L935.09,200.14 L936.40,202.20 L937.71,204.25 L939.03,206.29 L940.34,208.34 L941.65,210.38 L942.97,212.41 L944.28,214.44 L945.59,216.47 L946.90,218.49 L948.22,220.50 L949.53,222.51 L950.84,224.50 L952.16,226.49 L953.47,228.48 L954.78,230.45 L956.10,232.41 L957.41,234.37 L958.72,236.31 L960.04,238.25 L961.35,240.17 L962.66,242.08 L963.98,243.98 L965.29,245.87 L966.60,247.75 L967.92,249.61 L969.23,251.47 L970.54,253.31 L971.86,255.14 L973.17,256.95 L974.48,258.75 L975.79,260.54 L977.11,262.31 L978.42,264.07 L979.73,265.82 L981.05,267.55 L982.36,269.26 L983.67,270.96 L984.99,272.65 L986.30,274.32 L987.61,275.98 L988.93,277.62 L990.24,279.25 L991.55,280.86 L992.87,282.46 L994.18,284.04 L995.49,285.61 L996.81,287.16 L998.12,288.69 L999.43,290.21 L1000.74,291.71 L1002.06,293.20 L1003.37,294.67 L1004.68,296.13 L1006.00,297.57 L1007.31,299.00 L1008.62,300.41 L1009.94,301.80 L1011.25,303.18 L1011.25,381.85 L617.30,381.85 Z" fill="rgb(247,176,180)"/>
<path d="M617.30,86.97 L618.61,86.62 L619.93,86.29 L621.24,85.99 L622.55,85.70 L623.87,85.43 L625.18,85.18 L626.49,84.95 L627.81,84.74 L629.12,84.54 L630.43,84.36 L631.74,84.19 L633.06,84.04 L634.37,83.90 L635.68,83.77 L637.00,83.66 L638.31,83.55 L639.62,83.46 L640.94,83.37 L642.25,83.29 L643.56,83.22 L644.88,83.16 L646.19,83.10 L647.50,83.06 L648.82,83.01 L650.13,82.97 L651.44,82.94 L652.76,82.91 L654.07,82.89 L655.38,82.86 L656.70,82.85 L658.01,82.83 L659.32,82.82 L660.63,82.80 L661.95,82.79 L663.26,82.79 L664.57,82.78 L665.89,82.77 L667.20,82.77 L668.51,82.76 L669.83,82.76 L671.14,82.76 L672.45,82.76 L673.77,82.75 L675.08,82.75 L676.39,82.75 L677.71,82.75 L679.02,82.75 L680.33,82.75 L681.65,82.75 L682.96,82.75 L684.27,82.75 L685.58,82.75 L686.90,82.75 L688.21,82.75 L689.52,82.75 L690.84,82.75 L692.15,82.75 L693.46,82.75 L694.78,82.75 L696.09,82.75 L697.40,82.75 L698.72,82.75 L700.03,82.75 L701.34,82.75 L702.66,82.75 L703.97,82.75 L705.28,82.75 L706.60,82.75 L707.91,82.75 L709.22,82.75 L710.53,82.75 L711.85,82.75 L713.16,82.75 L714.47,82.75 L715.79,82.75 L717.10,82.75 L718.41,82.75 L719.73,82.75 L721.04,82.75 L722.35,82.75 L723.67,82.75 L724.98,82.75 L726.29,82.75 L727.61,82.75 L728.92,82.75 L730.23,82.75 L731.55,82.75 L732.86,82.75 L734.17,82.75 L735.49,82.75 L736.80,82.75 L738.11,82.75 L739.42,82.75 L740.74,82.75 L742.05,82.75 L743.36,82.75 L744.68,82.75 L745.99,82.75 L747.30,82.75 L748.62,82.75 L749.93,82.75 L751.24,82.75 L752.56,82.75 L753.87,82.75 L755.18,82.75 L756.50,82.75 L757.81,82.75 L759.12,82.75 L760.44,82.75 L761.75,82.75 L763.06,82.75 L764.37,82.75 L765.69,82.75 L767.00,82.75 L768.31,82.75 L769.63,82.75 L770.94,82.75 L772.25,82.75 L773.57,82.75 L774.88,82.76 L776.19,82.76 L777.51,82.76 L778.82,82.76 L780.13,82.77 L781.45,82.77 L782.76,82.78 L784.07,82.78 L785.39,82.79 L786.70,82.80 L788.01,82.81 L789.32,82.83 L790.64,82.84 L791.95,82.86 L793.26,82.88 L794.58,82.91 L795.89,82.94 L797.20,82.97 L798.52,83.01 L799.83,83.05 L801.14,83.10 L802.46,83.15 L803.77,83.21 L805.08,83.28 L806.40,83.36 L807.71,83.44 L809.02,83.53 L810.34,83.64 L811.65,83.75 L812.96,83.88 L814.28,84.02 L815.59,84.17 L816.90,84.33 L818.21,84.51 L819.53,84.71 L820.84,84.92 L822.15,85.15 L823.47,85.39 L824.78,85.66 L826.09,85.94 L827.41,86.24 L828.72,86.57 L830.03,86.91 L831.35,87.28 L832.66,87.67 L833.97,88.09 L835.29,88.53 L836.60,88.99 L837.91,89.49 L839.23,90.00 L840.54,90.55 L841.85,91.12 L843.16,91.73 L844.48,92.36 L845.79,93.02 L847.10,93.71 L848.42,94.43 L849.73,95.18 L851.04,95.97 L852.36,96.78 L853.67,97.63 L854.98,98.50 L856.30,99.41 L857.61,100.36 L858.92,101.33 L860.24,102.34 L861.55,103.38 L862.86,104.45 L864.18,105.55 L865.49,106.69 L866.80,107.86 L868.11,109.06 L869.43,110.29 L870.74,111.55 L872.05,112.84 L873.37,114.17 L874.68,115.52 L875.99,116.91 L877.31,118.33 L878.62,119.77 L879.93,121.24 L881.25,122.74 L882.56,124.27 L883.87,125.83 L885.19,127.41 L886.50,129.02 L887.81,130.65 L889.13,132.31 L890.44,133.99 L891.75,135.70 L893.07,137.42 L894.38,139.17 L895.69,140.95 L897.00,142.74 L898.32,144.55 L899.63,146.38 L900.94,148.23 L902.26,150.09 L903.57,151.98 L904.88,153.87 L906.20,155.79 L907.51,157.71 L908.82,159.66 L910.14,161.61 L911.45,163.57 L912.76,165.55 L914.08,167.54 L915.39,169.54 L916.70,171.54 L918.02,173.56 L919.33,175.58 L920.64,177.61 L921.95,179.64 L923.27,181.68 L924.58,183.72 L925.89,185.77 L927.21,187.82 L928.52,189.87 L929.83,191.92 L931.15,193.98 L932.46,196.03 L933.77,198.09 L935.09,200.14 L936.40,202.20 L937.71,204.25 L939.03,206.29 L940.34,208.34 L941.65,210.38 L942.97,212.41 L944.28,214.44 L945.59,216.47 L946.90,218.49 L948.22,220.50 L949.53,222.51 L950.84,224.50 L952.16,226.49 L953.47,228.48 L954.78,230.45 L956.10,232.41 L957.41,234.37 L958.72,236.31 L960.04,238.25 L961.35,240.17 L962.66,242.08 L963.98,243.98 L965.29,245.87 L966.60,247.75 L967.92,249.61 L969.23,251.47 L970.54,253.31 L971.86,255.14 L973.17,256.95 L974.48,258.75 L975.79,260.54 L977.11,262.31 L978.42,264.07 L979.73,265.82 L981.05,267.55 L982.36,269.26 L983.67,270.96 L984.99,272.65 L986.30,274.32 L987.61,275.98 L988.93,277.62 L990.24,279.25 L991.55,280.86 L992.87,282.46 L994.18,284.04 L995.49,285.61 L996.81,287.16 L998.12,288.69 L999.43,290.21 L1000.74,291.71 L1002.06,293.20 L1003.37,294.67 L1004.68,296.13 L1006.00,297.57 L1007.31,299.00 L1008.62,300.41 L1009.94,301.80 L1011.25,303.18" fill="none" stroke="rgb(235,35,50)" stroke-width="1.3" stroke-linejoin="round"/>
<path d="M617.30,99.82 L618.61,98.67 L619.93,97.57 L621.24,96.52 L622.55,95.52 L623.87,94.57 L625.18,93.66 L626.49,92.81 L627.81,92.00 L629.12,91.23 L630.43,90.51 L631.74,89.84 L633.06,89.20 L634.37,88.61 L635.68,88.06 L637.00,87.55 L638.31,87.07 L639.62,86.63 L640.94,86.22 L642.25,85.85 L643.56,85.50 L644.88,85.19 L646.19,84.90 L647.50,84.64 L648.82,84.41 L650.13,84.20 L651.44,84.01 L652.76,83.84 L654.07,83.69 L655.38,83.55 L656.70,83.43 L658.01,83.33 L659.32,83.24 L660.63,83.16 L661.95,83.09 L663.26,83.03 L664.57,82.98 L665.89,82.94 L667.20,82.91 L668.51,82.88 L669.83,82.85 L671.14,82.83 L672.45,82.81 L673.77,82.80 L675.08,82.79 L676.39,82.78 L677.71,82.77 L679.02,82.77 L680.33,82.76 L681.65,82.76 L682.96,82.76 L684.27,82.75 L685.58,82.75 L686.90,82.75 L688.21,82.75 L689.52,82.75 L690.84,82.75 L692.15,82.75 L693.46,82.75 L694.78,82.75 L696.09,82.75 L697.40,82.75 L698.72,82.75 L700.03,82.75 L701.34,82.75 L702.66,82.75 L703.97,82.75 L705.28,82.75 L706.60,82.75 L707.91,82.75 L709.22,82.75 L710.53,82.75 L711.85,82.75 L713.16,82.75 L714.47,82.75 L715.79,82.75 L717.10,82.75 L718.41,82.75 L719.73,82.75 L721.04,82.75 L722.35,82.75 L723.67,82.75 L724.98,82.75 L726.29,82.75 L727.61,82.75 L728.92,82.75 L730.23,82.75 L731.55,82.75 L732.86,82.75 L734.17,82.75 L735.49,82.75 L736.80,82.75 L738.11,82.75 L739.42,82.75 L740.74,82.75 L742.05,82.75 L743.36,82.75 L744.68,82.75 L745.99,82.75 L747.30,82.75 L748.62,82.75 L749.93,82.75 L751.24,82.75 L752.56,82.75 L753.87,82.75 L755.18,82.75 L756.50,82.75 L757.81,82.75 L759.12,82.75 L760.44,82.75 L761.75,82.75 L763.06,82.75 L764.37,82.76 L765.69,82.76 L767.00,82.76 L768.31,82.77 L769.63,82.77 L770.94,82.78 L772.25,82.79 L773.57,82.80 L774.88,82.81 L776.19,82.83 L777.51,82.85 L778.82,82.87 L780.13,82.90 L781.45,82.93 L782.76,82.98 L784.07,83.03 L785.39,83.08 L786.70,83.15 L788.01,83.23 L789.32,83.32 L790.64,83.42 L791.95,83.53 L793.26,83.66 L794.58,83.81 L795.89,83.98 L797.20,84.17 L798.52,84.37 L799.83,84.60 L801.14,84.86 L802.46,85.14 L803.77,85.45 L805.08,85.79 L806.40,86.16 L807.71,86.56 L809.02,86.99 L810.34,87.47 L811.65,87.97 L812.96,88.52 L814.28,89.10 L815.59,89.73 L816.90,90.40 L818.21,91.11 L819.53,91.87 L820.84,92.67 L822.15,93.52 L823.47,94.42 L824.78,95.36 L826.09,96.35 L827.41,97.39 L828.72,98.49 L830.03,99.63 L831.35,100.82 L832.66,102.06 L833.97,103.36 L835.29,104.70 L836.60,106.09 L837.91,107.54 L839.23,109.03 L840.54,110.57 L841.85,112.17 L843.16,113.81 L844.48,115.50 L845.79,117.23 L847.10,119.01 L848.42,120.84 L849.73,122.71 L851.04,124.63 L852.36,126.58 L853.67,128.58 L854.98,130.62 L856.30,132.69 L857.61,134.81 L858.92,136.96 L860.24,139.14 L861.55,141.36 L862.86,143.60 L864.18,145.88 L865.49,148.19 L866.80,150.52 L868.11,152.88 L869.43,155.27 L870.74,157.67 L872.05,160.10 L873.37,162.55 L874.68,165.02 L875.99,167.50 L877.31,170.00 L878.62,172.51 L879.93,175.03 L881.25,177.56 L882.56,180.11 L883.87,182.66 L885.19,185.21 L886.50,187.78 L887.81,190.34 L889.13,192.91 L890.44,195.48 L891.75,198.05 L893.07,200.62 L894.38,203.18 L895.69,205.74 L897.00,208.30 L898.32,210.85 L899.63,213.39 L900.94,215.92 L902.26,218.45 L903.57,220.96 L904.88,223.47 L906.20,225.96 L907.51,228.44 L908.82,230.90 L910.14,233.35 L911.45,235.79 L912.76,238.21 L914.08,240.61 L915.39,242.99 L916.70,245.36 L918.02,247.71 L919.33,250.04 L920.64,252.35 L921.95,254.64 L923.27,256.91 L924.58,259.16 L925.89,261.39 L927.21,263.60 L928.52,265.78 L929.83,267.94 L931.15,270.08 L932.46,272.20 L933.77,274.29 L935.09,276.36 L936.40,278.41 L937.71,280.43 L939.03,282.43 L940.34,284.40 L941.65,286.35 L942.97,288.28 L944.28,290.18 L945.59,292.06 L946.90,293.91 L948.22,295.74 L949.53,297.54 L950.84,299.32 L952.16,301.08 L953.47,302.81 L954.78,304.52 L956.10,306.20 L957.41,307.86 L958.72,309.50 L960.04,311.11 L961.35,312.69 L962.66,314.26 L963.98,315.80 L965.29,317.32 L966.60,318.81 L967.92,320.28 L969.23,321.73 L970.54,323.16 L971.86,324.56 L973.17,325.94 L974.48,327.30 L975.79,328.64 L977.11,329.95 L978.42,331.24 L979.73,332.52 L981.05,333.77 L982.36,335.00 L983.67,336.21 L984.99,337.40 L986.30,338.57 L987.61,339.72 L988.93,340.85 L990.24,341.96 L991.55,343.05 L992.87,344.12 L994.18,345.18 L995.49,346.21 L996.81,347.23 L998.12,348.23 L999.43,349.21 L1000.74,350.18 L1002.06,351.12 L1003.37,352.05 L1004.68,352.97 L1006.00,353.86 L1007.31,354.74 L1008.62,355.61 L1009.94,356.46 L1011.25,357.29 L1011.25,381.85 L617.30,381.85 Z" fill="rgb(237,217,198)"/>
<path d="M617.30,99.82 L618.61,98.67 L619.93,97.57 L621.24,96.52 L622.55,95.52 L623.87,94.57 L625.18,93.66 L626.49,92.81 L627.81,92.00 L629.12,91.23 L630.43,90.51 L631.74,89.84 L633.06,89.20 L634.37,88.61 L635.68,88.06 L637.00,87.55 L638.31,87.07 L639.62,86.63 L640.94,86.22 L642.25,85.85 L643.56,85.50 L644.88,85.19 L646.19,84.90 L647.50,84.64 L648.82,84.41 L650.13,84.20 L651.44,84.01 L652.76,83.84 L654.07,83.69 L655.38,83.55 L656.70,83.43 L658.01,83.33 L659.32,83.24 L660.63,83.16 L661.95,83.09 L663.26,83.03 L664.57,82.98 L665.89,82.94 L667.20,82.91 L668.51,82.88 L669.83,82.85 L671.14,82.83 L672.45,82.81 L673.77,82.80 L675.08,82.79 L676.39,82.78 L677.71,82.77 L679.02,82.77 L680.33,82.76 L681.65,82.76 L682.96,82.76 L684.27,82.75 L685.58,82.75 L686.90,82.75 L688.21,82.75 L689.52,82.75 L690.84,82.75 L692.15,82.75 L693.46,82.75 L694.78,82.75 L696.09,82.75 L697.40,82.75 L698.72,82.75 L700.03,82.75 L701.34,82.75 L702.66,82.75 L703.97,82.75 L705.28,82.75 L706.60,82.75 L707.91,82.75 L709.22,82.75 L710.53,82.75 L711.85,82.75 L713.16,82.75 L714.47,82.75 L715.79,82.75 L717.10,82.75 L718.41,82.75 L719.73,82.75 L721.04,82.75 L722.35,82.75 L723.67,82.75 L724.98,82.75 L726.29,82.75 L727.61,82.75 L728.92,82.75 L730.23,82.75 L731.55,82.75 L732.86,82.75 L734.17,82.75 L735.49,82.75 L736.80,82.75 L738.11,82.75 L739.42,82.75 L740.74,82.75 L742.05,82.75 L743.36,82.75 L744.68,82.75 L745.99,82.75 L747.30,82.75 L748.62,82.75 L749.93,82.75 L751.24,82.75 L752.56,82.75 L753.87,82.75 L755.18,82.75 L756.50,82.75 L757.81,82.75 L759.12,82.75 L760.44,82.75 L761.75,82.75 L763.06,82.75 L764.37,82.76 L765.69,82.76 L767.00,82.76 L768.31,82.77 L769.63,82.77 L770.94,82.78 L772.25,82.79 L773.57,82.80 L774.88,82.81 L776.19,82.83 L777.51,82.85 L778.82,82.87 L780.13,82.90 L781.45,82.93 L782.76,82.98 L784.07,83.03 L785.39,83.08 L786.70,83.15 L788.01,83.23 L789.32,83.32 L790.64,83.42 L791.95,83.53 L793.26,83.66 L794.58,83.81 L795.89,83.98 L797.20,84.17 L798.52,84.37 L799.83,84.60 L801.14,84.86 L802.46,85.14 L803.77,85.45 L805.08,85.79 L806.40,86.16 L807.71,86.56 L809.02,86.99 L810.34,87.47 L811.65,87.97 L812.96,88.52 L814.28,89.10 L815.59,89.73 L816.90,90.40 L818.21,91.11 L819.53,91.87 L820.84,92.67 L822.15,93.52 L823.47,94.42 L824.78,95.36 L826.09,96.35 L827.41,97.39 L828.72,98.49 L830.03,99.63 L831.35,100.82 L832.66,102.06 L833.97,103.36 L835.29,104.70 L836.60,106.09 L837.91,107.54 L839.23,109.03 L840.54,110.57 L841.85,112.17 L843.16,113.81 L844.48,115.50 L845.79,117.23 L847.10,119.01 L848.42,120.84 L849.73,122.71 L851.04,124.63 L852.36,126.58 L853.67,128.58 L854.98,130.62 L856.30,132.69 L857.61,134.81 L858.92,136.96 L860.24,139.14 L861.55,141.36 L862.86,143.60 L864.18,145.88 L865.49,148.19 L866.80,150.52 L868.11,152.88 L869.43,155.27 L870.74,157.67 L872.05,160.10 L873.37,162.55 L874.68,165.02 L875.99,167.50 L877.31,170.00 L878.62,172.51 L879.93,175.03 L881.25,177.56 L882.56,180.11 L883.87,182.66 L885.19,185.21 L886.50,187.78 L887.81,190.34 L889.13,192.91 L890.44,195.48 L891.75,198.05 L893.07,200.62 L894.38,203.18 L895.69,205.74 L897.00,208.30 L898.32,210.85 L899.63,213.39 L900.94,215.92 L902.26,218.45 L903.57,220.96 L904.88,223.47 L906.20,225.96 L907.51,228.44 L908.82,230.90 L910.14,233.35 L911.45,235.79 L912.76,238.21 L914.08,240.61 L915.39,242.99 L916.70,245.36 L918.02,247.71 L919.33,250.04 L920.64,252.35 L921.95,254.64 L923.27,256.91 L924.58,259.16 L925.89,261.39 L927.21,263.60 L928.52,265.78 L929.83,267.94 L931.15,270.08 L932.46,272.20 L933.77,274.29 L935.09,276.36 L936.40,278.41 L937.71,280.43 L939.03,282.43 L940.34,284.40 L941.65,286.35 L942.97,288.28 L944.28,290.18 L945.59,292.06 L946.90,293.91 L948.22,295.74 L949.53,297.54 L950.84,299.32 L952.16,301.08 L953.47,302.81 L954.78,304.52 L956.10,306.20 L957.41,307.86 L958.72,309.50 L960.04,311.11 L961.35,312.69 L962.66,314.26 L963.98,315.80 L965.29,317.32 L966.60,318.81 L967.92,320.28 L969.23,321.73 L970.54,323.16 L971.86,324.56 L973.17,325.94 L974.48,327.30 L975.79,328.64 L977.11,329.95 L978.42,331.24 L979.73,332.52 L981.05,333.77 L982.36,335.00 L983.67,336.21 L984.99,337.40 L986.30,338.57 L987.61,339.72 L988.93,340.85 L990.24,341.96 L991.55,343.05 L992.87,344.12 L994.18,345.18 L995.49,346.21 L996.81,347.23 L998.12,348.23 L999.43,349.21 L1000.74,350.18 L1002.06,351.12 L1003.37,352.05 L1004.68,352.97 L1006.00,353.86 L1007.31,354.74 L1008.62,355.61 L1009.94,356.46 L1011.25,357.29" fill="none" stroke="rgb(130,85,45)" stroke-width="1.3" stroke-linejoin="round"/>
<path d="M670.5,381.85 v-9.3 M670.5,55.5 v9.3 M723.5,381.85 v-9.3 M723.5,55.5 v9.3 M777.5,381.85 v-9.3 M777.5,55.5 v9.3 M830.5,381.85 v-9.3 M830.5,55.5 v9.3 M883.5,381.85 v-9.3 M883.5,55.5 v9.3 M936.5,381.85 v-9.3 M936.5,55.5 v9.3 M989.5,381.85 v-9.3 M989.5,55.5 v9.3 M617.3000000000001,335.5 h9.3 M1011.25,335.5 h-9.3 M617.3000000000001,272.5 h9.3 M1011.25,272.5 h-9.3 M617.3000000000001,209.5 h9.3 M1011.25,209.5 h-9.3 M617.3000000000001,145.5 h9.3 M1011.25,145.5 h-9.3 M617.3000000000001,82.5 h9.3 M1011.25,82.5 h-9.3" stroke="rgb(0,0,0)" stroke-opacity="0.11" stroke-width="1.2" fill="none"/>
<rect x="617.3000000000001" y="55.5" width="393.95000000000005" height="326.35" fill="none" stroke="rgb(55,50,50)" stroke-width="1.4"/>
<rect x="662.8000000000001" y="447.3" width="303.2" height="34.6" fill="#fff" stroke="rgb(45,45,45)" stroke-width="1.4"/>
<rect x="669.5" y="458.8" width="37" height="12" fill="rgb(179,176,216)" stroke="rgb(60,85,170)" stroke-width="1.2"/>
<rect x="766.4" y="458.8" width="37" height="12" fill="rgb(247,176,180)" stroke="rgb(235,35,50)" stroke-width="1.2"/>
<rect x="863.3" y="458.8" width="37" height="12" fill="rgb(237,217,198)" stroke="rgb(130,85,45)" stroke-width="1.2"/>
<g transform="translate(547.2,181) rotate(-90)"><path d="M3.9,-11.6 C5.3,-14.3 8.2,-15.4 10.4,-14.8 C9.6,-10 8,-4 6.5,0 M6.9,-6.7 L16.2,-6.9 M19.4,-14.8 C18.6,-10 17,-4 15.8,-0.4 C17,0.4 18.6,0 19.9,-1.3" fill="none" stroke="rgb(45,45,45)" stroke-width="1.6" stroke-linecap="round"/></g>
<g class="t"><text transform="translate(108.01,29.60) scale(0.9879,1)" font-size="22.4">Effect</text>
<text transform="translate(168.73,29.60) scale(1.0278,1)" font-size="22.4">of</text>
<text transform="translate(195.14,29.60) scale(0.9957,1)" font-size="22.4" font-style="italic">p</text>
<text transform="translate(212.26,29.60) scale(0.9835,1)" font-size="22.4">on</text>
<text transform="translate(242.44,29.60) scale(1.0568,1)" font-size="22.4">Tsallis</text>
<text transform="translate(310.85,29.60) scale(0.8522,1)" font-size="22.4">(</text>
<text transform="translate(317.80,29.60) scale(1.0700,1)" font-size="22.4" font-style="italic">q</text>
<text transform="translate(380.47,29.60) scale(0.8348,1)" font-size="22.4">)</text>
<text transform="translate(396.70,29.60) scale(1.0145,1)" font-size="22.4">behaviour</text>
<text transform="translate(356.50,29.60) scale(1.0513,1)" font-size="22.4">10</text>
<text transform="translate(220.98,436.80) scale(1.0157,1)" font-size="22.4">Scaling-index,</text>
<text transform="translate(360.16,436.80) scale(1.0894,1)" font-size="22.4" font-style="italic">α</text>
<text transform="translate(82.20,89.80)" font-size="22.4">1</text>
<text transform="translate(64.95,147.80)" font-size="22.4">0.8</text>
<text transform="translate(64.70,207.80)" font-size="22.4">0.6</text>
<text transform="translate(64.45,267.80)" font-size="22.4">0.4</text>
<text transform="translate(65.45,327.80)" font-size="22.4">0.2</text>
<text transform="translate(201.65,403.50)" font-size="22.4">0</text>
<text transform="translate(246.51,403.50)" font-size="22.4">0.5</text>
<text transform="translate(307.75,403.50)" font-size="22.4">1</text>
<text transform="translate(352.36,403.50)" font-size="22.4">1.5</text>
<text transform="translate(414.72,403.50)" font-size="22.4">2</text>
<text transform="translate(459.33,403.50)" font-size="22.4">2.5</text>
<text transform="translate(104.28,403.50) scale(0.8625,1)" font-size="22.4">1</text>
<text transform="translate(145.97,403.50) scale(0.9736,1)" font-size="22.4">0.5</text>
<text transform="translate(195.64,470.10) scale(0.9957,1)" font-size="22.4" font-style="italic">p</text>
<text transform="translate(234.52,470.10) scale(0.9789,1)" font-size="22.4">3</text>
<text transform="translate(292.54,470.10) scale(0.9957,1)" font-size="22.4" font-style="italic">p</text>
<text transform="translate(332.18,470.10) scale(0.8651,1)" font-size="22.4">4</text>
<text transform="translate(389.44,470.10) scale(0.9957,1)" font-size="22.4" font-style="italic">p</text>
<text transform="translate(428.04,470.10) scale(1.0054,1)" font-size="22.4">5</text>
<text transform="translate(624.21,29.60) scale(0.9879,1)" font-size="22.4">Effect</text>
<text transform="translate(684.93,29.60) scale(1.0278,1)" font-size="22.4">of</text>
<text transform="translate(711.34,29.60) scale(0.9957,1)" font-size="22.4" font-style="italic">p</text>
<text transform="translate(728.46,29.60) scale(0.9835,1)" font-size="22.4">on</text>
<text transform="translate(758.64,29.60) scale(1.0568,1)" font-size="22.4">Tsallis</text>
<text transform="translate(827.05,29.60) scale(0.8522,1)" font-size="22.4">(</text>
<text transform="translate(834.00,29.60) scale(1.0700,1)" font-size="22.4" font-style="italic">q</text>
<text transform="translate(896.67,29.60) scale(0.8348,1)" font-size="22.4">)</text>
<text transform="translate(912.90,29.60) scale(1.0145,1)" font-size="22.4">behaviour</text>
<text transform="translate(872.70,29.60) scale(1.0513,1)" font-size="22.4">15</text>
<text transform="translate(737.18,436.80) scale(1.0157,1)" font-size="22.4">Scaling-index,</text>
<text transform="translate(876.36,436.80) scale(1.0894,1)" font-size="22.4" font-style="italic">α</text>
<text transform="translate(598.40,89.85)" font-size="22.4">1</text>
<text transform="translate(581.15,151.01)" font-size="22.4">0.8</text>
<text transform="translate(580.90,214.17)" font-size="22.4">0.6</text>
<text transform="translate(580.65,277.33)" font-size="22.4">0.4</text>
<text transform="translate(581.65,340.49)" font-size="22.4">0.2</text>
<text transform="translate(715.15,406.50)" font-size="22.4">0</text>
<text transform="translate(762.71,403.50)" font-size="22.4">0.5</text>
<text transform="translate(823.95,403.50)" font-size="22.4">1</text>
<text transform="translate(868.56,403.50)" font-size="22.4">1.5</text>
<text transform="translate(930.92,403.50)" font-size="22.4">2</text>
<text transform="translate(975.53,403.50)" font-size="22.4">2.5</text>
<text transform="translate(617.77,406.50) scale(0.8625,1)" font-size="22.4">1</text>
<text transform="translate(659.47,406.50) scale(0.9736,1)" font-size="22.4">0.5</text>
<text transform="translate(711.84,470.10) scale(0.9957,1)" font-size="22.4" font-style="italic">p</text>
<text transform="translate(750.72,470.10) scale(0.9789,1)" font-size="22.4">3</text>
<text transform="translate(808.74,470.10) scale(0.9957,1)" font-size="22.4" font-style="italic">p</text>
<text transform="translate(848.38,470.10) scale(0.8651,1)" font-size="22.4">4</text>
<text transform="translate(905.64,470.10) scale(0.9957,1)" font-size="22.4" font-style="italic">p</text>
<text transform="translate(944.24,470.10) scale(1.0054,1)" font-size="22.4">5</text></g>
<g class="t" transform="translate(31,181) rotate(-90)"><text transform="translate(-147.56,0.00) scale(1.0538,1)" font-size="22.4">Tsallis entropy,</text>
<text transform="translate(21.62,-8.40) scale(1.1771,1)" font-size="15.6" font-style="italic">T</text>
<text transform="translate(22.32,5.50) scale(0.9571,1)" font-size="15.6" font-style="italic">q</text>
<text transform="translate(36.80,0.00) scale(0.8000,1)" font-size="22.4">(</text>
<text transform="translate(44.50,0.00) scale(1.0244,1)" font-size="19.5" font-style="italic">π</text>
<text transform="translate(58.16,2.50) scale(0.8348,1)" font-size="15.6" font-style="italic">j</text>
<text transform="translate(65.46,0.00) scale(0.8522,1)" font-size="22.4">)</text></g>
<g class="t" transform="translate(547.2,181) rotate(-90)"><text transform="translate(-147.56,0.00) scale(1.0538,1)" font-size="22.4">Tsallis entropy,</text>
<text transform="translate(21.62,-8.40) scale(1.1771,1)" font-size="15.6" font-style="italic">T</text>
<text transform="translate(22.32,5.50) scale(0.9571,1)" font-size="15.6" font-style="italic">q</text>
<text transform="translate(36.80,0.00) scale(0.8000,1)" font-size="22.4">(</text>
<text transform="translate(44.50,0.00) scale(1.0244,1)" font-size="19.5" font-style="italic">π</text>
<text transform="translate(58.16,2.50) scale(0.8348,1)" font-size="15.6" font-style="italic">j</text>
<text transform="translate(65.46,0.00) scale(0.8522,1)" font-size="22.4">)</text></g>
<g fill="rgb(60,60,60)"><rect x="336.90" y="21.70" width="14.60" height="1.00"/><rect x="336.90" y="25.90" width="14.60" height="1.00"/><rect x="89.30" y="397.50" width="12.80" height="1.00"/><rect x="131.70" y="397.50" width="12.60" height="1.00"/><rect x="212.90" y="462.00" width="15.00" height="1.00"/><rect x="212.90" y="466.10" width="15.00" height="1.00"/><rect x="309.80" y="462.00" width="15.00" height="1.00"/><rect x="309.80" y="466.10" width="15.00" height="1.00"/><rect x="406.70" y="462.00" width="15.00" height="1.00"/><rect x="406.70" y="466.10" width="15.00" height="1.00"/><rect x="853.10" y="21.70" width="14.60" height="1.00"/><rect x="853.10" y="25.90" width="14.60" height="1.00"/><rect x="602.80" y="400.50" width="12.80" height="1.00"/><rect x="645.20" y="400.50" width="12.60" height="1.00"/><rect x="729.10" y="462.00" width="15.00" height="1.00"/><rect x="729.10" y="466.10" width="15.00" height="1.00"/><rect x="826.00" y="462.00" width="15.00" height="1.00"/><rect x="826.00" y="466.10" width="15.00" height="1.00"/><rect x="922.90" y="462.00" width="15.00" height="1.00"/><rect x="922.90" y="466.10" width="15.00" height="1.00"/></g>
</svg>
</body></html>
